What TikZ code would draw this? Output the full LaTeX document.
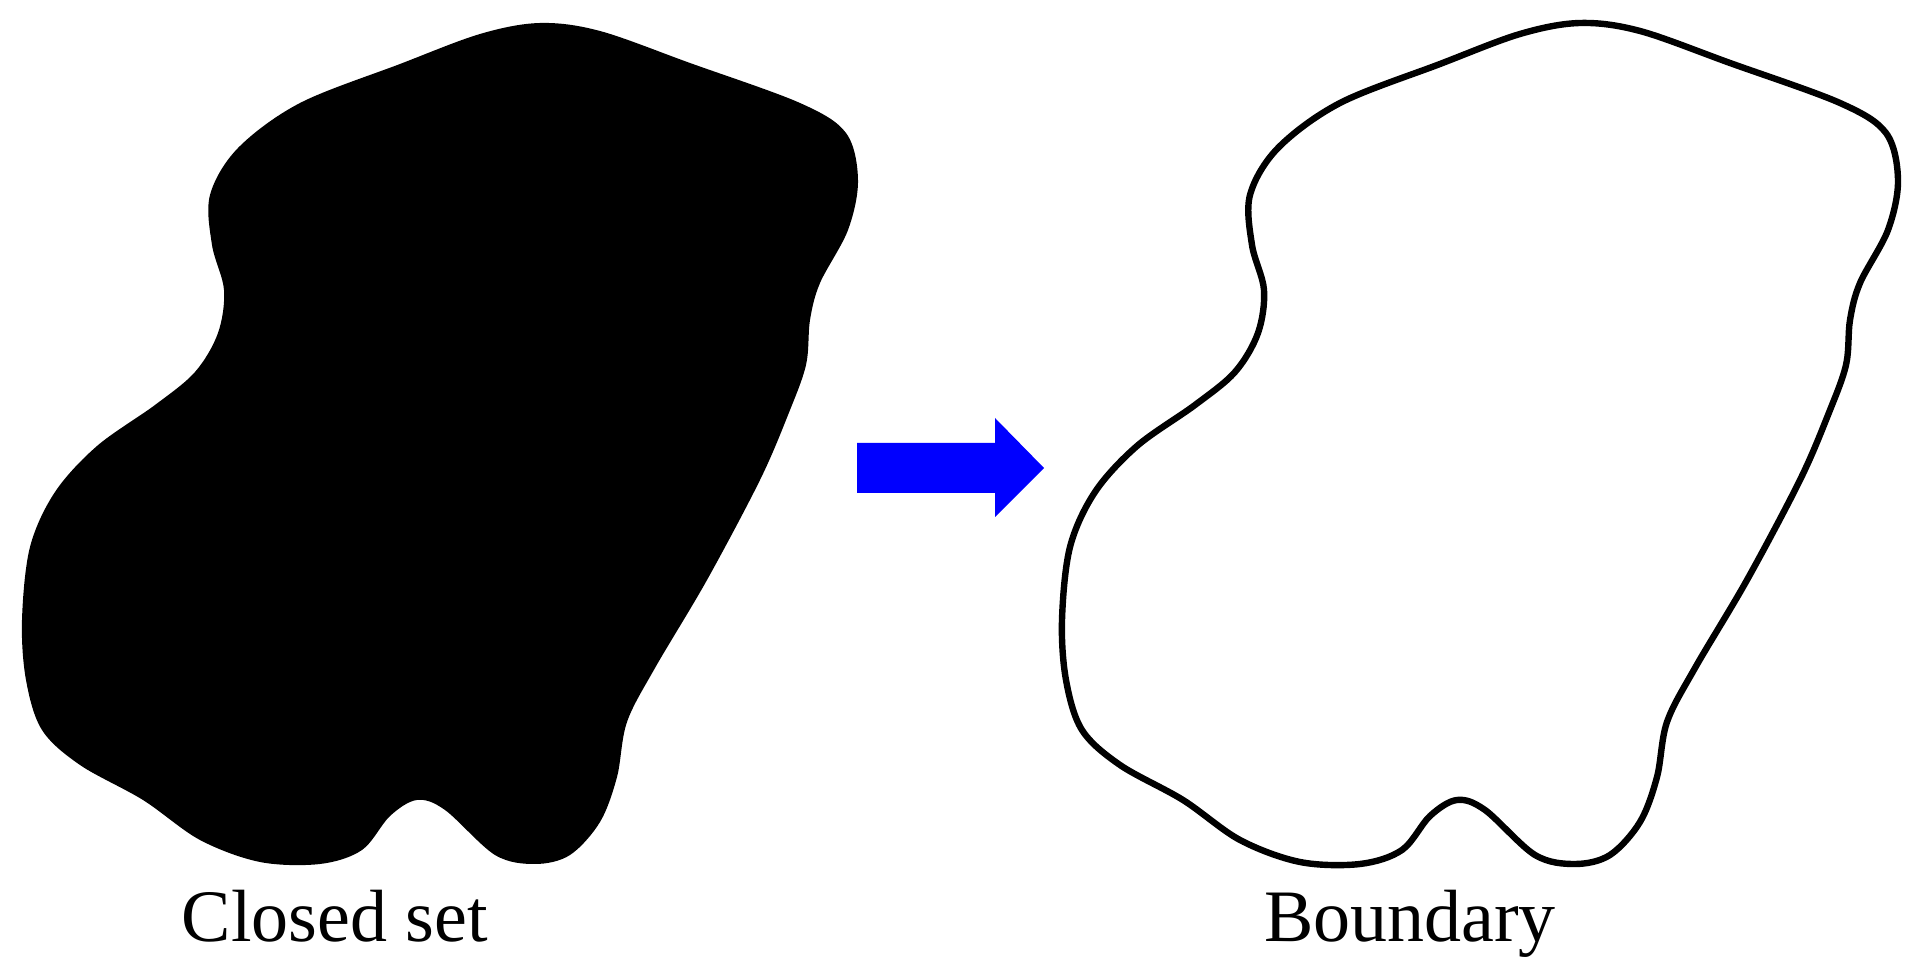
\documentclass[tikz,border=0pt]{standalone}
\usepackage{fontspec}
\setmainfont{Liberation Serif}
\begin{document}
\begin{tikzpicture}[x=0.5pt,y=-0.5pt,
  setshape/.style={fill=black},
  boundshape/.style={draw=black,line width=3.2pt},
  bluearrow/.style={fill=blue,draw=none},
  caption/.style={anchor=base,inner sep=0pt,font=\fontsize{37}{44}\selectfont}]
\useasboundingbox (0,0) rectangle (1924,977);
\def\contour{(540,23) (600,31) (690,63) (800,103) (846,133) (858,180) (848,230) (820,283) (810,320) (806,365) (788,415) (760,480) (707,580) (655,668) (627,722) (617,777) (600,822) (570,855) (535,864) (495,855) (445,810) (417,800) (390,816) (362,850) (320,864) (260,862) (200,840) (143,800) (80,765) (42,730) (26,680) (22,620) (30,547) (55,492) (97,446) (155,405) (195,372) (218,333) (224,290) (212,245) (210,195) (238,148) (300,103) (400,64) (480,34)}
\fill[setshape] plot[smooth cycle,tension=0.55] coordinates {\contour};
\begin{scope}[shift={(1040,0)}]
\draw[boundshape] plot[smooth cycle,tension=0.55] coordinates {\contour};
\end{scope}
\fill[bluearrow] (857,443) -- (995,443) -- (995,418) -- (1044,468) -- (995,517) -- (995,493) -- (857,493) -- cycle;
\node[caption] (closed) at (335,942) {Closed set};
\node[caption] (boundary) at (1410,942) {Boundary};
\end{tikzpicture}
\end{document}
